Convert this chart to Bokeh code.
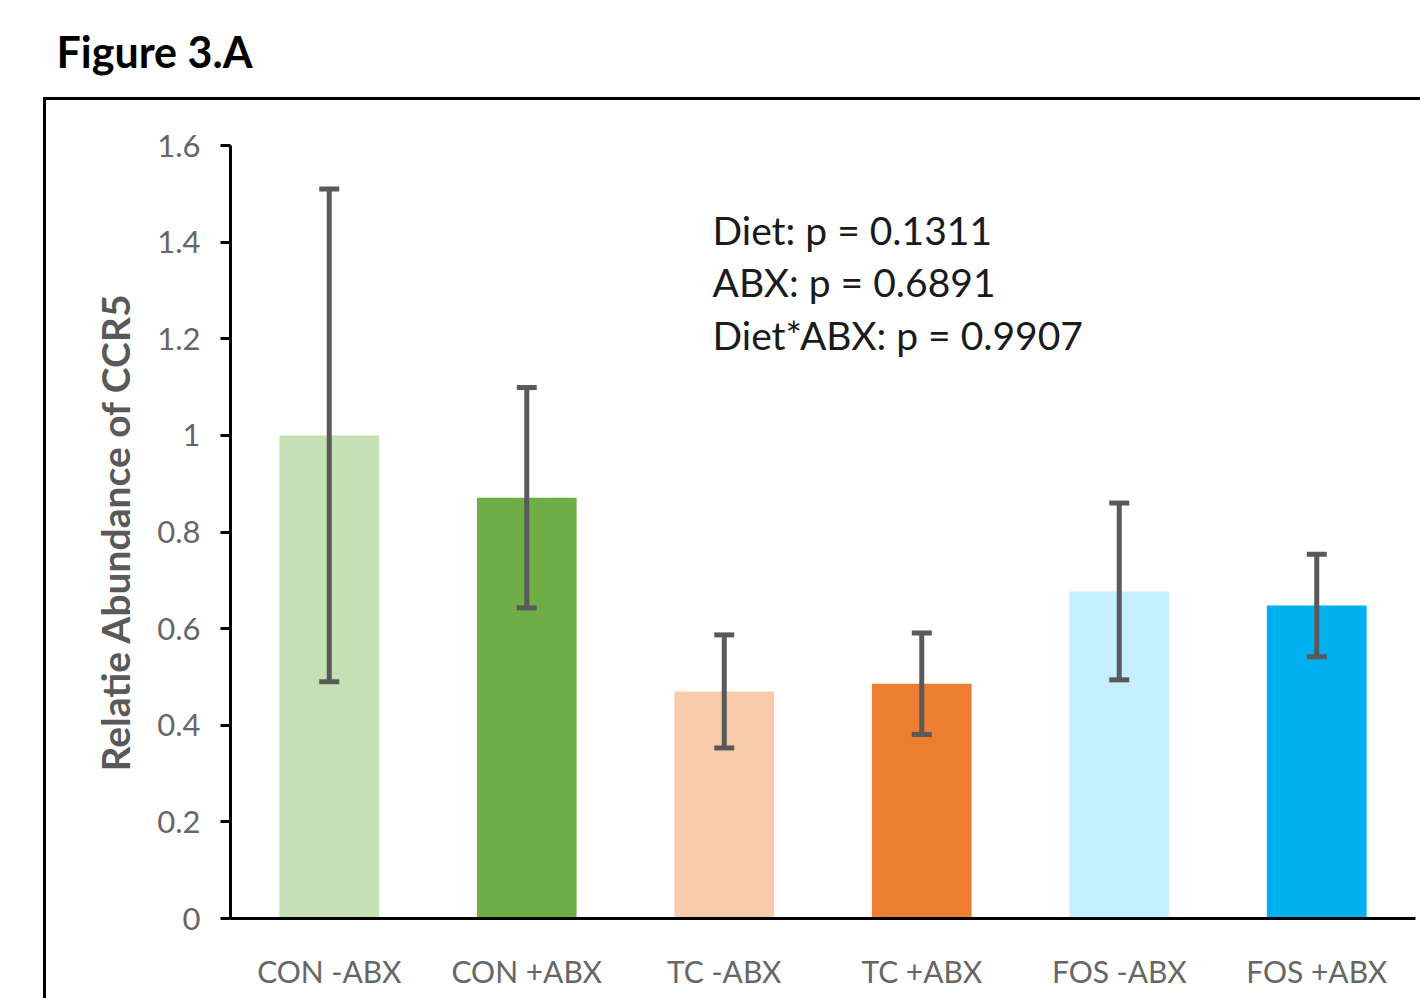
from bokeh.plotting import figure
from bokeh.models import (ColumnDataSource, Whisker, TeeHead, Label, FixedTicker, Range1d,
                          FactorRange)
from bokeh.layouts import column
from bokeh.embed import file_html
from bokeh.resources import INLINE

groups = ["CON -ABX", "CON +ABX", "TC -ABX", "TC +ABX", "FOS -ABX", "FOS +ABX"]
means = [1.00, 0.871, 0.470, 0.486, 0.677, 0.648]
errors = [0.51, 0.228, 0.117, 0.105, 0.183, 0.106]
colors = ["#C5E0B4", "#70AD47", "#F8CBAD", "#ED7D31", "#C5EEFF", "#00B0F0"]
yticks = [0, 0.2, 0.4, 0.6, 0.8, 1.0, 1.2, 1.4, 1.6]
ytick_labels = ["0", "0.2", "0.4", "0.6", "0.8", "1", "1.2", "1.4", "1.6"]
stats_lines = ["Diet: p = 0.1311", "ABX: p = 0.6891", "Diet*ABX: p = 0.9907"]
fig_title = "Figure 3.A"
y_label = "Relatie Abundance of CCR5"

# ---- heading strip (title + top edge of the panel frame) ----
head = figure(width=1420, height=100, x_range=Range1d(0, 1420), y_range=Range1d(100, 0),
              output_backend="svg", toolbar_location=None, min_border=0)
try:
    head.frame_align = False
except Exception:
    pass
head.axis.visible = False
head.grid.grid_line_color = None
head.outline_line_color = None
head.background_fill_color = None
head.border_fill_color = None
head.styles = {
    "background-color": "white",
    "background-image": "linear-gradient(#000,#000), linear-gradient(#000,#000)",
    "background-size": "3px 3px, 1500px 3px",
    "background-position": "43px 97px, 43px 97px",
    "background-repeat": "no-repeat",
}
head.add_layout(Label(x=56, y=51, text=fig_title, text_font="Lato", text_font_style="bold",
                      text_font_size="43px", text_color="black", text_baseline="middle",
                      text_align="left"))

# ---- main chart ----
src = ColumnDataSource(dict(
    g=groups, m=means, c=colors,
    lo=[m - e for m, e in zip(means, errors)],
    hi=[m + e for m, e in zip(means, errors)],
))

p = figure(width=1420, height=898, x_range=FactorRange(*groups, range_padding=0),
           y_range=Range1d(0, 1.6), output_backend="svg", toolbar_location=None,
           min_border_left=230, min_border_right=5, min_border_top=45, min_border_bottom=80)
try:
    p.frame_align = False
except Exception:
    pass
p.outline_line_color = None
p.xgrid.grid_line_color = None
p.ygrid.grid_line_color = None
p.background_fill_color = "white"
p.border_fill_color = None
p.styles = {
    "background-color": "white",
    "background-image": "linear-gradient(#000,#000)",
    "background-size": "3px 1000px",
    "background-position": "43px 0px",
    "background-repeat": "no-repeat",
}

p.vbar(x="g", top="m", width=0.505, color="c", line_color=None, source=src)

w = Whisker(base="g", upper="hi", lower="lo", source=src, line_color="#595959", line_width=5,
            level="annotation",
            upper_head=TeeHead(size=20, line_color="#595959", line_width=5),
            lower_head=TeeHead(size=20, line_color="#595959", line_width=5))
p.add_layout(w)

ya = p.yaxis[0]
ya.ticker = FixedTicker(ticks=yticks)
ya.major_label_overrides = {t: l for t, l in zip(yticks, ytick_labels)}
ya.minor_tick_line_color = None
ya.major_tick_in = 0
ya.major_tick_out = 10
ya.major_tick_line_width = 3
ya.major_tick_line_color = "black"
ya.axis_line_width = 3
ya.axis_line_color = "black"
ya.major_label_text_font = "Lato"
ya.major_label_text_font_size = "31px"
ya.major_label_text_color = "#666666"
ya.major_label_standoff = 20
ya.axis_label = y_label
ya.axis_label_text_font = "Lato"
ya.axis_label_text_font_style = "bold"
ya.axis_label_text_font_size = "39px"
ya.axis_label_text_color = "#595959"
ya.axis_label_standoff = 16

xa = p.xaxis[0]
xa.major_tick_line_color = None
xa.minor_tick_line_color = None
xa.axis_line_width = 3
xa.axis_line_color = "black"
xa.major_label_text_font = "Lato"
xa.major_label_text_font_size = "30px"
xa.major_label_text_color = "#666666"
xa.major_label_standoff = 28

# frame geometry: 1185 px for 6 categories, 773 px for 1.6 units (frame top at y=145 on page)
px_x = 1185 / 6.0
px_y = 773 / 1.6
def dx(px):
    return (px - 230) / px_x
def dy(py):
    return (918 - py) / px_y

for line, base in zip(stats_lines, [229, 281, 334]):
    p.add_layout(Label(x=dx(712), y=dy(base), text=line, text_font="Lato", text_font_size="39px",
                       text_color="#1a1a1a", text_baseline="middle", text_align="left"))

layout = column(head, p, spacing=0)
open("out.html", "w").write(file_html(layout, INLINE))
